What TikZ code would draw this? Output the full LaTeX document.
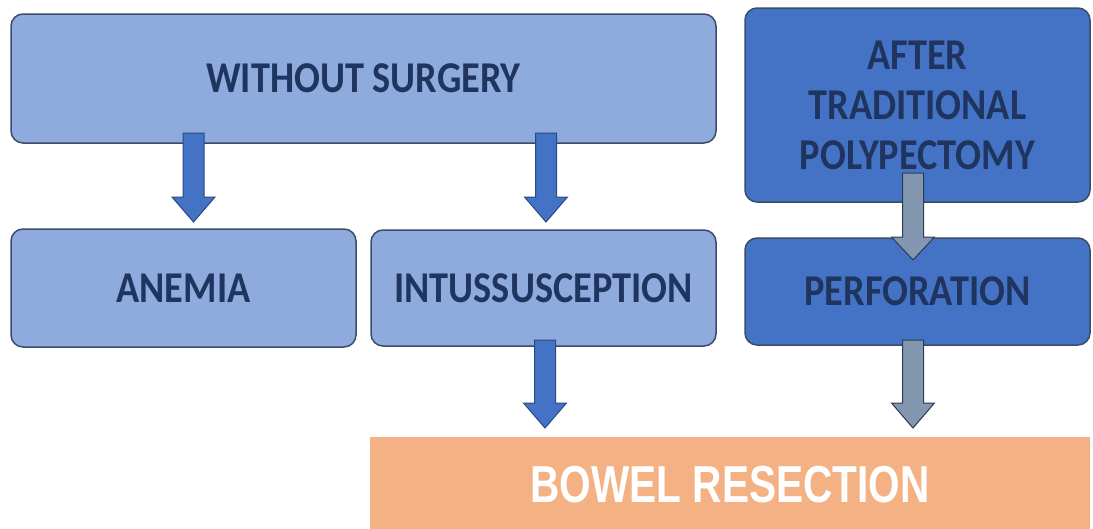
\documentclass[tikz,border=0pt]{standalone}
\usepackage{fontspec}
\setmainfont{Carlito}
\newfontfamily\boxfont[FakeStretch=0.87]{Carlito}
\newfontfamily\arialfont[FakeStretch=0.78]{Liberation Sans}
\definecolor{lightfill}{HTML}{8FAADC}
\definecolor{darkfill}{HTML}{4472C4}
\definecolor{boxline}{HTML}{3B4D68}
\definecolor{navytext}{HTML}{1F3560}
\definecolor{arrowblue}{HTML}{4472C4}
\definecolor{arrowblueline}{HTML}{2A4A85}
\definecolor{arrowgray}{HTML}{8497B0}
\definecolor{arrowgrayline}{HTML}{2B3A55}
\definecolor{orangefill}{HTML}{F4B183}
\tikzset{
  box/.style={draw=boxline, line width=1.5pt, rounded corners=12pt, inner sep=0pt,
    font=\boxfont\fontsize{44}{50}\selectfont\bfseries, text=navytext, align=center},
  lightbox/.style={box, fill=lightfill},
  darkbox/.style={box, fill=darkfill},
  bluearrow/.style={fill=arrowblue, draw=arrowblueline, line width=1pt, line join=miter},
  grayarrow/.style={fill=arrowgray, draw=arrowgrayline, line width=1pt, line join=miter}
}
% block arrow: #1 style, #2 center x, #3 top y, #4 head start y, #5 tip y
\newcommand{\blockarr}[5]{%
  \draw[#1] (#2-10.5,#3) -- (#2+10.5,#3) -- (#2+10.5,#4) -- (#2+21.5,#4) -- (#2,#5)
    -- (#2-21.5,#4) -- (#2-10.5,#4) -- cycle;}
\begin{document}
\begin{tikzpicture}[x=1pt,y=-1pt]
\useasboundingbox (0,0) rectangle (1093,528);
\fill[white] (0,0) rectangle (1093,528);

\node[lightbox, minimum width=705pt, minimum height=129pt] (without) at (363.5,78.5) {WITHOUT SURGERY};
\node[lightbox, minimum width=345pt, minimum height=118pt] (anemia) at (183.5,288) {ANEMIA};
\node[lightbox, minimum width=345pt, minimum height=116pt] (intus) at (543.5,288) {INTUSSUSCEPTION};
\node[darkbox, minimum width=345pt, minimum height=194pt] (after) at (917.5,105) {AFTER\\TRADITIONAL\\POLYPECTOMY};
\node[darkbox, minimum width=345pt, minimum height=107pt] (perf) at (917.5,291.5) {PERFORATION};
\node[fill=orangefill, minimum width=720pt, minimum height=96pt, inner sep=0pt, text=white,
  font=\arialfont\fontsize{52}{56}\selectfont\bfseries] (bowel) at (730,485)
  {BOWEL RESECTION};

\blockarr{bluearrow}{193.5}{133}{197}{222}
\blockarr{bluearrow}{546}{133}{197}{222}
\blockarr{grayarrow}{913}{173}{237}{260}
\blockarr{bluearrow}{545}{340}{403}{428}
\blockarr{grayarrow}{913}{340}{403}{428}
\end{tikzpicture}
\end{document}
